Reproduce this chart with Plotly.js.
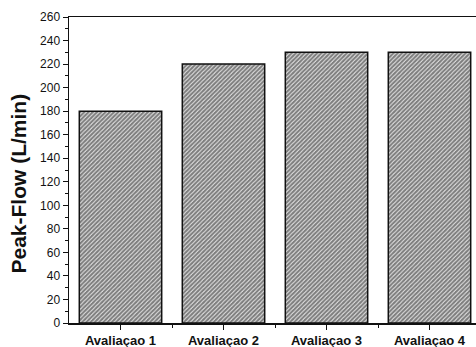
<!DOCTYPE html>
<html>
<head>
<meta charset="utf-8">
<script src="https://cdn.plot.ly/plotly-3.0.1.min.js"></script>
<style>
html,body{margin:0;padding:0;overflow:hidden;background:#fff;width:476px;height:347px;}
#chart{width:492px;height:347px;}
</style>
</head>
<body>
<div id="chart"></div>
<script>
const categories = ["Avaliaçao 1", "Avaliaçao 2", "Avaliaçao 3", "Avaliaçao 4"];
const peakFlow = [180, 220, 230, 230];
const yTicks = [0, 20, 40, 60, 80, 100, 120, 140, 160, 180, 200, 220, 240, 260];

const idx = categories.map((c, i) => i);
const FONT = "Liberation Sans";

const trace = {
  type: "bar",
  x: idx,
  y: peakFlow,
  width: 0.8,
  marker: {
    color: "#ffffff",
    line: {color: "#111111", width: 1.5},
    pattern: {shape: "/", size: 3, solidity: 0.75, fgcolor: "#000000", bgcolor: "#ffffff", fillmode: "overlay"}
  },
  hoverinfo: "skip"
};

const layout = {
  width: 492,
  height: 347,
  margin: {l: 69, r: 11, t: 17, b: 24},
  paper_bgcolor: "#ffffff",
  plot_bgcolor: "#ffffff",
  showlegend: false,
  font: {family: FONT, color: "#111111"},
  xaxis: {
    range: [-0.5, 3.5],
    tickmode: "array",
    tickvals: idx,
    ticktext: categories,
    tickfont: {size: 13, family: FONT, weight: "bold", color: "#111111"},
    ticks: "outside",
    ticklen: 5,
    tickwidth: 1,
    tickcolor: "#111111",
    showline: true,
    linecolor: "#111111",
    linewidth: 1.5,
    mirror: true,
    showgrid: false,
    zeroline: false,
    minor: {tickmode: "array", tickvals: [0.5, 1.5, 2.5], ticks: "outside", ticklen: 3, tickcolor: "#111111", showgrid: false}
  },
  yaxis: {
    range: [0, 260],
    tickmode: "array",
    tickvals: yTicks,
    tickfont: {size: 12, family: FONT, color: "#111111"},
    ticks: "outside",
    ticklen: 5,
    tickwidth: 1,
    tickcolor: "#111111",
    showline: true,
    linecolor: "#111111",
    linewidth: 1.5,
    mirror: true,
    showgrid: false,
    zeroline: false,
    minor: {dtick: 10, tick0: 0, ticks: "outside", ticklen: 3, tickcolor: "#111111", showgrid: false}
  },
  annotations: [{
    text: "Peak-Flow (L/min)",
    xref: "paper", yref: "paper",
    x: -69/412 + 18/412, xanchor: "center",
    y: (323 - 183.5) / 306, yanchor: "middle",
    textangle: -90,
    showarrow: false,
    font: {size: 21, family: FONT, weight: "bold", color: "#111111"}
  }]
};

Plotly.newPlot("chart", [trace], layout, {displayModeBar: false, staticPlot: true});
</script>
</body>
</html>
